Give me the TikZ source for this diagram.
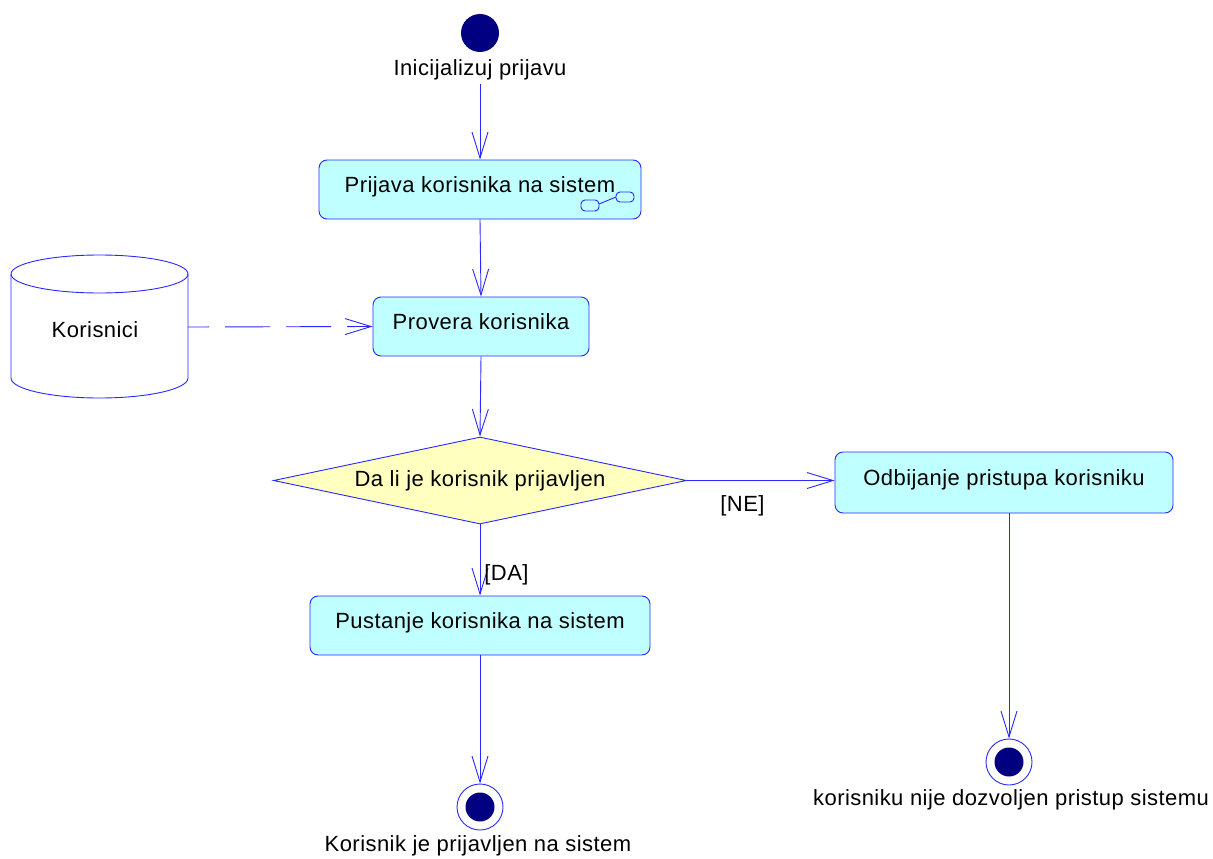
\documentclass[tikz,border=0pt]{standalone}
\usepackage{fontspec}
\setmainfont{Liberation Sans}[LetterSpace=2]
\usetikzlibrary{arrows.meta,shapes.geometric,calc}
\definecolor{lc}{RGB}{40,40,255}
\definecolor{boxfill}{RGB}{192,255,255}
\definecolor{decfill}{RGB}{255,255,192}
\definecolor{dotc}{RGB}{0,0,128}
\begin{document}
\begin{tikzpicture}[x=1pt,y=-1pt,
  every node/.style={font=\fontsize{22}{26}\selectfont},
  act/.style={draw=lc, fill=boxfill, rounded corners=8pt, inner sep=0pt,
              text height=16pt, text depth=11pt, line width=0.9pt},
  dec/.style={draw=lc, fill=decfill, diamond, aspect=4.75, inner sep=0pt,
              minimum width=413pt, minimum height=87pt, line width=0.9pt},
  flow/.style={draw=lc, line width=0.9pt, -{Straight Barb[length=26pt,width=16pt]}},
  flowdash/.style={flow, dash pattern=on 45pt off 16pt, dash phase=24pt},
  lbl/.style={inner sep=0pt},
  startnode/.style={circle, fill=dotc, minimum size=38pt, inner sep=0pt},
  endnode/.style={circle, draw=lc, fill=white, minimum size=46pt, inner sep=0pt, line width=0.9pt},
  aux/.style={draw=lc, line width=0.9pt}]
\useasboundingbox (0,0) rectangle (1213,859);

% initial
\node[startnode] (init) at (480,33) {};
\node[lbl] (initlbl) at (480,70) {Inicijalizuj prijavu};

% activities
\node[act, minimum width=322pt, minimum height=59pt] (prijava) at (480,189.5) {Prijava korisnika na sistem};
\draw[aux, fill=boxfill, rounded corners=4pt] (581,200) rectangle (599,211);
\draw[aux, fill=boxfill, rounded corners=4pt] (616,192) rectangle (634,202);
\draw[aux] (599,204) -- (616,197);

\node[act, minimum width=216pt, minimum height=59pt] (provera) at (481,326.5) {Provera korisnika};

% data store
\draw[aux] (99.5,274) ellipse [x radius=88.5pt, y radius=19pt];
\draw[aux] (11,274) -- (11,378) arc[start angle=180, end angle=360, x radius=88.5pt, y radius=20pt] -- (188,274);
\node[minimum width=177pt, minimum height=142pt, inner sep=0pt] (kor) at (99.5,327) {};
\node[lbl] (korlbl) at (95,330) {Korisnici};

% decision
\node[dec] (dec) at (480,480.5) {Da li je korisnik prijavljen};

\node[act, minimum width=338pt, minimum height=61pt] (odb) at (1004,482.5) {Odbijanje pristupa korisniku};
\node[act, minimum width=340pt, minimum height=59pt] (pust) at (480,625.5) {Pustanje korisnika na sistem};

% finals
\node[endnode] (fin1) at (480,807) {};
\fill[dotc] (fin1) circle (14.5pt);
\node[lbl] (fin1lbl) at (478,846) {Korisnik je prijavljen na sistem};

\node[endnode] (fin2) at (1009,762) {};
\fill[dotc] (fin2) circle (14.5pt);
\node[lbl] (fin2lbl) at (1011,800) {korisniku nije dozvoljen pristup sistemu};

% flows
\draw[flow] ($(initlbl.south)+(0,4)$) -- (prijava.north);
\draw[flow] (prijava.south) -- (provera.north);
\draw[flowdash] (kor.east) -- (provera.west);
\draw[flow] (provera.south) -- (dec.north);
\draw[flow] (dec.east) -- (dec.east -| odb.west) node[lbl, pos=0.376, below=15pt] (ne) {[NE]};
\draw[flow] (dec.south) -- (pust.north) node[lbl, pos=0.71, right=4pt] (da) {[DA]};
\draw[flow] (pust.south) -- (fin1.north);
\draw[flow] (odb.south -| fin2) -- (fin2.north);
\end{tikzpicture}
\end{document}
